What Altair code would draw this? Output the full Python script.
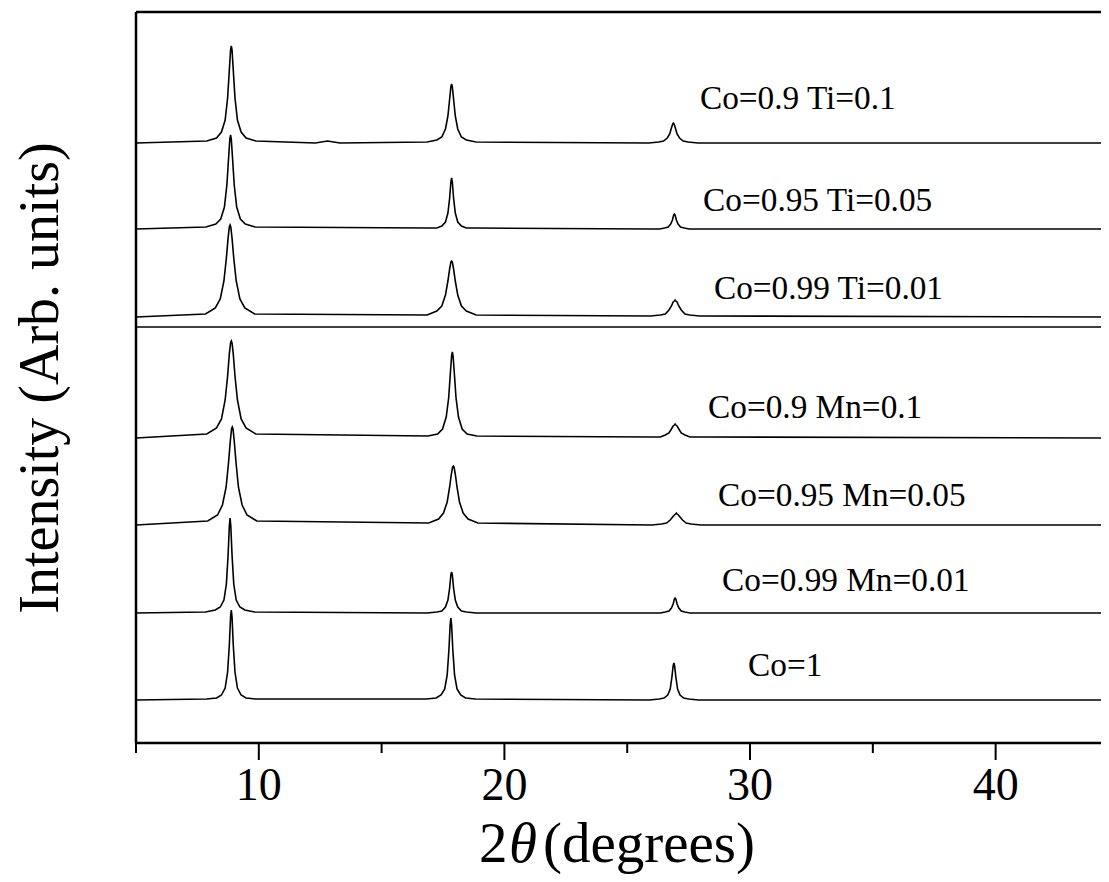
import altair as alt
import pandas as pd

# ---------------- data ----------------
samples = ["Co=0.9 Ti=0.1", "Co=0.95 Ti=0.05", "Co=0.99 Ti=0.01",
           "Co=0.9 Mn=0.1", "Co=0.95 Mn=0.05", "Co=0.99 Mn=0.01", "Co=1"]
stack_offsets = [600, 514, 426, 305, 218, 130, 43]

ti10_x = [5.0,
          7.88, 8.28, 8.48, 8.63, 8.73, 8.80, 8.85, 8.88, 8.91, 8.96, 9.03, 9.13, 9.28, 9.48, 9.88,
          12.3, 12.8, 13.3,
          16.85, 17.25, 17.45, 17.60, 17.70, 17.77, 17.82, 17.85, 17.88, 17.93, 18.00, 18.10, 18.25, 18.45, 18.85,
          25.88, 26.28, 26.48, 26.63, 26.73, 26.80, 26.85, 26.88, 26.91, 26.96, 27.03, 27.13, 27.28, 27.48, 27.88,
          44.29]
ti10_y = [0,
          2, 5, 11, 23, 45, 73, 93, 97, 93, 73, 45, 23, 11, 5, 2,
          0, 2, 0,
          1, 3, 6, 14, 27, 44, 56, 59, 56, 44, 27, 14, 6, 3, 1,
          0, 1, 2, 5, 9, 15, 19, 20, 19, 15, 9, 5, 2, 1, 0,
          0]

ti05_x = [5.0,
          7.85, 8.25, 8.45, 8.60, 8.70, 8.77, 8.82, 8.85, 8.88, 8.93, 9.00, 9.10, 9.25, 9.45, 9.85,
          16.85, 17.25, 17.45, 17.60, 17.70, 17.77, 17.82, 17.85, 17.88, 17.93, 18.00, 18.10, 18.25, 18.45, 18.85,
          25.92, 26.32, 26.52, 26.67, 26.77, 26.84, 26.89, 26.92, 26.95, 27.00, 27.07, 27.17, 27.32, 27.52, 27.92,
          44.29]
ti05_y = [0,
          2, 5, 10, 22, 44, 71, 90, 94, 90, 71, 44, 22, 10, 5, 2,
          1, 1, 3, 7, 16, 31, 47, 51, 47, 31, 16, 7, 3, 1, 1,
          0, 0, 1, 2, 5, 9, 14, 15, 14, 9, 5, 2, 1, 0, 0,
          0]

ti01_x = [5.0,
          7.83, 8.23, 8.43, 8.58, 8.68, 8.75, 8.80, 8.83, 8.86, 8.91, 8.98, 9.08, 9.23, 9.43, 9.83,
          16.85, 17.25, 17.45, 17.60, 17.70, 17.77, 17.82, 17.85, 17.88, 17.93, 18.00, 18.10, 18.25, 18.45, 18.85,
          25.95, 26.35, 26.55, 26.70, 26.80, 26.87, 26.92, 26.95, 26.98, 27.03, 27.10, 27.20, 27.35, 27.55, 27.95,
          44.29]
ti01_y = [0,
          3, 9, 18, 36, 59, 79, 90, 92, 90, 79, 59, 36, 18, 9, 3,
          2, 6, 11, 22, 36, 48, 55, 56, 55, 48, 36, 22, 11, 6, 2,
          1, 2, 3, 7, 11, 15, 16, 17, 16, 15, 11, 7, 3, 2, 1,
          0]

mn10_x = [5.0,
          7.88, 8.28, 8.48, 8.63, 8.73, 8.80, 8.85, 8.88, 8.91, 8.96, 9.03, 9.13, 9.28, 9.48, 9.88,
          16.88, 17.28, 17.48, 17.63, 17.73, 17.80, 17.85, 17.88, 17.91, 17.96, 18.03, 18.13, 18.28, 18.48, 18.88,
          25.95, 26.35, 26.55, 26.70, 26.80, 26.87, 26.92, 26.95, 26.98, 27.03, 27.10, 27.20, 27.35, 27.55, 27.95,
          44.29]
mn10_y = [0,
          4, 10, 19, 38, 62, 84, 95, 97, 95, 84, 62, 38, 19, 10, 4,
          2, 4, 9, 21, 40, 65, 82, 86, 82, 65, 40, 21, 9, 4, 2,
          1, 1, 3, 5, 9, 12, 13, 14, 13, 12, 9, 5, 3, 1, 1,
          0]

mn05_x = [5.0,
          7.92, 8.32, 8.52, 8.67, 8.77, 8.84, 8.89, 8.92, 8.95, 9.00, 9.07, 9.17, 9.32, 9.52, 9.92,
          16.92, 17.32, 17.52, 17.67, 17.77, 17.84, 17.89, 17.92, 17.95, 18.00, 18.07, 18.17, 18.32, 18.52, 18.92,
          26.00, 26.40, 26.60, 26.75, 26.85, 26.92, 26.97, 27.00, 27.03, 27.08, 27.15, 27.25, 27.40, 27.60, 28.00,
          44.29]
mn05_y = [0,
          4, 10, 20, 38, 63, 84, 96, 98, 96, 84, 63, 38, 20, 10, 4,
          2, 6, 12, 23, 38, 51, 58, 59, 58, 51, 38, 23, 12, 6, 2,
          0, 1, 2, 5, 8, 10, 11, 12, 11, 10, 8, 5, 2, 1, 0,
          0]

mn01_x = [5.0,
          7.83, 8.23, 8.43, 8.58, 8.68, 8.75, 8.80, 8.83, 8.86, 8.91, 8.98, 9.08, 9.23, 9.43, 9.83,
          16.85, 17.25, 17.45, 17.60, 17.70, 17.77, 17.82, 17.85, 17.88, 17.93, 18.00, 18.10, 18.25, 18.45, 18.85,
          25.95, 26.35, 26.55, 26.70, 26.80, 26.87, 26.92, 26.95, 26.98, 27.03, 27.10, 27.20, 27.35, 27.55, 27.95,
          44.29]
mn01_y = [0,
          1, 3, 6, 13, 29, 58, 87, 95, 87, 58, 29, 13, 6, 3, 1,
          0, 1, 2, 6, 13, 25, 38, 41, 38, 25, 13, 6, 2, 1, 0,
          0, 0, 1, 2, 5, 9, 14, 15, 14, 9, 5, 2, 1, 0, 0,
          0]

co1_x = [5.0,
         7.88, 8.28, 8.48, 8.63, 8.73, 8.80, 8.85, 8.88, 8.91, 8.96, 9.03, 9.13, 9.28, 9.48, 9.88,
         16.82, 17.22, 17.42, 17.57, 17.67, 17.74, 17.79, 17.82, 17.85, 17.90, 17.97, 18.07, 18.22, 18.42, 18.82,
         25.90, 26.30, 26.50, 26.65, 26.75, 26.82, 26.87, 26.90, 26.93, 26.98, 27.05, 27.15, 27.30, 27.50, 27.90,
         44.29]
co1_y = [0,
         1, 2, 5, 12, 28, 55, 83, 90, 83, 55, 28, 12, 5, 2, 1,
         1, 2, 5, 11, 25, 50, 75, 82, 75, 50, 25, 11, 5, 2, 1,
         0, 1, 2, 5, 11, 23, 34, 37, 34, 23, 11, 5, 2, 1, 0,
         0]

trace_x = [ti10_x, ti05_x, ti01_x, mn10_x, mn05_x, mn01_x, co1_x]
trace_y = [ti10_y, ti05_y, ti01_y, mn10_y, mn05_y, mn01_y, co1_y]

label_x = [27.96, 28.09, 28.53, 28.29, 28.70, 28.86, 29.92]
label_y = [644, 542, 454, 335, 247, 162, 77]

separator_y = [416]
major_ticks = [10, 20, 30, 40]
minor_ticks = [5, 15, 25, 35]
x_domain = [5, 44.29]
y_domain = [0, 731]
y_title = ["Intensity (Arb. units)"]
x_title_parts = ["2", "\u03b8", "(degrees)"]

# ---------------- build tables ----------------
rows = []
for name, off, xs, ys in zip(samples, stack_offsets, trace_x, trace_y):
    for i, (a, b) in enumerate(zip(xs, ys)):
        rows.append({"sample": name, "x": a, "y": b + off, "i": i})
df = pd.DataFrame(rows)
labels_df = pd.DataFrame({"text": samples, "x": label_x, "y": label_y})

FONT = "Liberation Serif"
W, H = 965, 731
xs_scale = alt.Scale(domain=x_domain, nice=False, zero=False)
ys_scale = alt.Scale(domain=y_domain, nice=False, zero=False)

lines = alt.Chart(df).mark_line(color="black", strokeWidth=1.6).encode(
    x=alt.X("x:Q", scale=xs_scale, axis=None),
    y=alt.Y("y:Q", scale=ys_scale, axis=None),
    detail="sample:N",
    order="i:Q",
)

labels = alt.Chart(labels_df).mark_text(
    font=FONT, fontSize=33.3, align="left", baseline="middle", color="black"
).encode(
    x=alt.X("x:Q", scale=xs_scale, axis=None),
    y=alt.Y("y:Q", scale=ys_scale, axis=None),
    text="text:N",
)

sep = alt.Chart(pd.DataFrame({"y": separator_y})).mark_rule(color="black", strokeWidth=1.6).encode(
    y=alt.Y("y:Q", scale=ys_scale, axis=None),
    x=alt.value(0), x2=alt.value(W),
)

minor = alt.Chart(pd.DataFrame({"t": minor_ticks})).mark_rule(color="black", strokeWidth=2).encode(
    x=alt.X("t:Q", scale=xs_scale, axis=None),
    y=alt.value(H), y2=alt.value(H + 10),
)

major_df = pd.DataFrame({"t": major_ticks})
major = alt.Chart(major_df).mark_rule(color="black", strokeWidth=2).encode(
    x=alt.X("t:Q", scale=xs_scale, axis=None),
    y=alt.value(H), y2=alt.value(H + 17),
)
tick_labels = alt.Chart(major_df).mark_text(
    font=FONT, fontSize=46, align="center", baseline="alphabetic", color="black"
).encode(
    x=alt.X("t:Q", scale=xs_scale, axis=None),
    y=alt.value(H + 57),
    text=alt.Text("t:Q", format="d"),
)

dummy = pd.DataFrame({"a": [0]})
top_border = alt.Chart(dummy).mark_rule(color="black", strokeWidth=2.5).encode(
    x=alt.value(0), x2=alt.value(W), y=alt.value(0))
left_border = alt.Chart(dummy).mark_rule(color="black", strokeWidth=2.5).encode(
    x=alt.value(0), y=alt.value(0), y2=alt.value(H))
bottom_border = alt.Chart(dummy).mark_rule(color="black", strokeWidth=2.5).encode(
    x=alt.value(0), x2=alt.value(W), y=alt.value(H))

ytitle = alt.Chart(pd.DataFrame({"t": y_title})).mark_text(
    font=FONT, fontSize=56, angle=270, align="center", baseline="alphabetic", color="black"
).encode(x=alt.value(-78), y=alt.value(366), text="t:N")

t1 = alt.Chart(pd.DataFrame({"t": [x_title_parts[0]]})).mark_text(
    font=FONT, fontSize=57, align="left", baseline="alphabetic", color="black"
).encode(x=alt.value(343), y=alt.value(850), text="t:N")
t2 = alt.Chart(pd.DataFrame({"t": [x_title_parts[1]]})).mark_text(
    font=FONT, fontSize=57, fontStyle="italic", align="left", baseline="alphabetic", color="black"
).encode(x=alt.value(373), y=alt.value(850), text="t:N")
t3 = alt.Chart(pd.DataFrame({"t": [x_title_parts[2]]})).mark_text(
    font=FONT, fontSize=57, align="left", baseline="alphabetic", color="black"
).encode(x=alt.value(407), y=alt.value(850), text="t:N")

chart = alt.layer(
    lines, labels, sep, minor, major, tick_labels,
    top_border, left_border, bottom_border, ytitle, t1, t2, t3
).properties(
    width=W, height=H,
    autosize=alt.AutoSizeParams(type="none"),
    padding={"left": 128, "top": 4, "right": 0, "bottom": 131},
).configure_view(stroke=None).configure(background="white")

chart.save("out.html", embed_options={"renderer": "svg", "actions": False})
